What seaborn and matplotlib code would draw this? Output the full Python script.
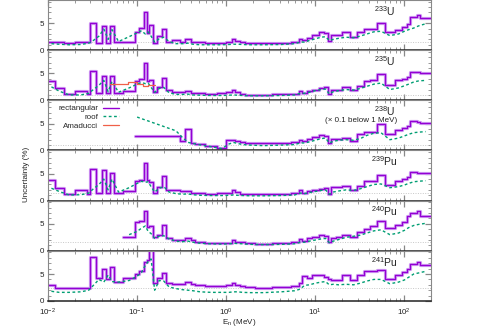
import numpy as np
import pandas as pd
import matplotlib
matplotlib.use("Agg")
import matplotlib.pyplot as plt
from matplotlib.lines import Line2D
from matplotlib.ticker import MultipleLocator, LogLocator, NullFormatter
import seaborn as sns

nan = np.nan

# common energy group boundaries (MeV)
edges = [0.01, 0.012, 0.015, 0.02, 0.0275, 0.03, 0.035, 0.04, 0.045, 0.05, 0.055,
         0.07, 0.095, 0.106, 0.119, 0.129, 0.138, 0.15, 0.166, 0.19, 0.21, 0.25,
         0.3, 0.35, 0.4, 0.45, 0.58, 0.8, 1.0, 1.16, 1.26, 1.44, 1.64, 2.12, 3.26,
         5.3, 6.5, 7.1, 8.1, 9.2, 10.9, 12.4, 13.8, 15.0, 17.0, 19.9, 24.7, 29.4,
         34.9, 41.5, 50, 60, 79, 94, 107, 117, 139, 151, 200]

# uncertainty (%) per group, rectangular and roof
rect_233u = [1.55, 1.55, 1.35, 1.5, 1.5, 5.05, 1.4, 4.45, 1.4, 4.5, 1.55,
             1.6, 3.3, 4.2, 7.0, 3.2, 4.7, 1.4, 2.6, 3.9,
             1.6, 1.9, 1.5, 2.0, 1.5, 1.45, 1.4, 1.35,
             1.6, 2.0, 1.7, 1.5, 1.4, 1.35, 1.4,
             1.5, 2.15, 1.8, 2.3, 2.8, 3.3, 3.1, 1.7, 2.8, 2.8,
             3.3, 2.5, 3.3, 3.9, 3.9, 5.1, 3.3, 3.7, 4.3, 4.8, 6.2, 6.5, 5.9]
roof_233u = [1.2, 1.1, 1.0, 1.05, 1.3, 1.8, 2.6, 3.9, 2.0, 3.8, 1.6,
             2.5, 3.2, 3.6, 3.0, 3.4, 2.6, 1.5, 2.1, 2.4,
             1.6, 1.2, 1.2, 1.3, 1.1, 1.0, 1.0, 1.0,
             1.05, 1.1, 1.1, 1.05, 1.0, 1.0, 1.05,
             1.2, 1.5, 1.5, 1.8, 2.1, 2.4, 2.5, 1.8, 2.0, 2.2,
             2.4, 2.3, 2.6, 3.0, 3.4, 3.5, 2.7, 3.0, 3.5, 3.8, 4.1, 4.5, 4.9]

rect_235u = [3.5, 2.3, 1.1, 1.7, 1.2, 5.5, 1.3, 4.6, 1.3, 4.6, 1.3,
             1.8, 3.5, 3.9, 7.0, 3.6, 3.8, 1.5, 2.5, 4.1,
             2.0, 1.6, 1.5, 1.8, 1.4, 1.3, 1.25, 1.3,
             1.5, 1.9, 1.5, 1.2, 1.05, 1.05, 1.1,
             1.25, 1.7, 1.4, 1.8, 2.0, 2.3, 2.4, 1.1, 2.0, 2.0,
             2.5, 1.85, 2.65, 3.5, 3.7, 4.8, 2.8, 3.7, 4.0, 4.4, 5.2, 5.3, 5.05]
roof_235u = [2.5, 1.7, 1.0, 1.0, 1.3, 2.0, 2.8, 3.7, 1.6, 3.5, 1.5,
             2.3, 3.0, 3.3, 3.1, 3.2, 2.4, 1.5, 2.2, 2.4,
             1.4, 1.1, 1.1, 1.15, 1.0, 0.95, 0.9, 0.9,
             0.95, 1.0, 0.95, 0.9, 0.85, 0.85, 0.9,
             1.0, 1.3, 1.3, 1.5, 1.8, 2.0, 2.1, 1.2, 1.6, 1.8,
             2.0, 1.9, 2.2, 2.6, 3.0, 3.2, 2.0, 2.3, 2.7, 3.0, 3.4, 3.6, 3.7]

amad_edges = [0.05, 0.08, 0.1, 0.118, 0.134, 0.16]
amad_235u = [2.95, 3.35, 3.1, 2.7, 2.9]

rect_238u = [nan] * 12 + [2.6, 2.6, 2.6, 2.6, 2.6, 2.6, 2.6, 2.6,
             2.7, 2.7, 1.85, 4.0, 1.4, 1.2, 0.85, 0.45,
             1.9, 2.0, 1.7, 1.6, 1.3, 1.3, 1.3,
             1.5, 2.0, 1.7, 2.1, 2.5, 2.8, 2.6, 1.35, 2.1, 2.1,
             2.4, 1.8, 3.0, 3.5, 3.5, 4.9, 3.0, 3.8, 4.1, 4.6, 5.4, 5.25, 5.1]
roof_238u = [nan] * 12 + [6.2, 5.9, 5.66, 5.48, 5.28, 5.05, 4.75, 4.45,
             4.1, 3.65, 2.4, 1.5, 1.3, 1.05, 0.7, 0.35,
             1.2, 1.5, 1.3, 1.1, 1.0, 0.9, 1.0,
             1.1, 1.4, 1.4, 1.6, 1.9, 2.2, 2.3, 1.4, 1.7, 1.9,
             2.0, 1.9, 2.2, 2.8, 3.2, 3.3, 2.0, 2.3, 2.7, 3.0, 3.3, 3.4, 3.5]

rect_239pu = [3.8, 2.3, 1.2, 2.0, 1.3, 5.8, 1.35, 5.7, 1.35, 5.2, 1.5,
              1.8, 3.6, 3.9, 7.0, 3.9, 3.4, 1.5, 2.6, 4.5,
              2.0, 1.9, 1.7, 1.8, 1.4, 1.4, 1.3, 1.35,
              1.5, 1.9, 1.6, 1.3, 1.2, 1.2, 1.25,
              1.35, 2.0, 1.35, 1.8, 2.0, 2.2, 2.4, 1.2, 2.5, 2.5,
              2.7, 2.0, 2.8, 3.7, 3.7, 4.75, 2.9, 3.7, 4.0, 4.4, 5.35, 5.2, 5.05]
roof_239pu = [2.3, 1.7, 1.05, 1.1, 1.4, 2.2, 3.0, 4.0, 2.0, 4.0, 1.6,
              2.4, 3.2, 3.6, 3.4, 3.5, 2.6, 1.6, 2.3, 2.6,
              1.6, 1.3, 1.2, 1.25, 1.1, 1.0, 0.95, 0.95,
              1.0, 1.05, 1.0, 0.95, 0.9, 0.9, 0.95,
              1.05, 1.4, 1.3, 1.5, 1.7, 1.9, 2.0, 1.2, 1.6, 1.8,
              2.0, 1.9, 2.2, 2.6, 3.0, 3.1, 2.4, 2.6, 2.9, 3.2, 3.5, 3.6, 3.7]

rect_240pu = [nan] * 11 + [2.55, 5.4, 5.6, 7.4, 4.5, 4.6, 2.6, 3.0, 4.8,
              2.4, 2.0, 2.0, 2.3, 2.0, 1.6, 1.45, 1.4,
              1.5, 2.0, 1.7, 1.55, 1.45, 1.35, 1.4,
              1.7, 2.2, 1.9, 2.3, 2.6, 3.0, 2.8, 1.55, 2.3, 2.6,
              3.0, 2.6, 3.4, 4.0, 4.6, 5.6, 4.2, 4.7, 5.3, 6.5, 7.0, 7.3, 6.5]
roof_240pu = [nan] * 11 + [3.0, 3.6, 4.2, 4.6, 3.6, 3.2, 2.3, 2.7, 2.8,
              2.2, 1.8, 1.7, 1.8, 1.6, 1.4, 1.3, 1.25,
              1.3, 1.4, 1.35, 1.3, 1.2, 1.15, 1.2,
              1.3, 1.6, 1.6, 1.8, 2.0, 2.2, 2.3, 1.5, 1.8, 2.1,
              2.5, 2.7, 2.9, 3.3, 3.7, 3.9, 3.0, 3.3, 3.8, 4.3, 4.7, 4.9, 5.1]

rect_241pu = [2.9, 2.5, 2.5, 2.5, 2.5, 8.2, 4.2, 5.9, 4.0, 6.3, 3.6,
              4.3, 5.0, 5.5, 7.3, 7.6, 9.9, 3.3, 4.2, 5.2,
              3.4, 3.2, 3.2, 3.5, 3.2, 2.9, 2.7, 2.7,
              2.9, 3.4, 3.0, 2.8, 2.6, 2.5, 2.6,
              2.8, 3.3, 4.6, 4.3, 4.75, 4.75, 4.5, 4.1, 3.95, 3.95,
              4.8, 3.8, 4.75, 5.5, 5.5, 5.8, 4.1, 4.8, 5.4, 6.0, 6.9, 7.2, 6.6]
roof_241pu = [1.8, 1.6, 1.6, 1.7, 2.0, 2.9, 4.0, 3.5, 4.8, 3.6, 3.5,
              3.8, 4.6, 5.3, 6.6, 7.3, 7.8, 2.0, 3.8, 3.7,
              2.6, 2.3, 2.1, 2.0, 1.9, 1.7, 1.6, 1.6,
              1.6, 1.7, 1.7, 1.6, 1.55, 1.55, 1.7,
              1.9, 2.2, 2.9, 3.0, 3.3, 3.5, 3.6, 3.0, 3.1, 3.0,
              3.1, 3.0, 3.3, 3.7, 4.0, 4.0, 3.2, 3.5, 3.9, 4.4, 5.0, 5.2, 5.5]

nuclides = [r"$^{233}$U", r"$^{235}$U", r"$^{238}$U", r"$^{239}$Pu", r"$^{240}$Pu", r"$^{241}$Pu"]
ref_levels = [1.5, 1.05, 1.05, 1.5, 1.6, 2.5]
rect_all = [rect_233u, rect_235u, rect_238u, rect_239pu, rect_240pu, rect_241pu]
roof_all = [roof_233u, roof_235u, roof_238u, roof_239pu, roof_240pu, roof_241pu]

PURPLE = "#9400d3"
PURPLE_LIGHT = "#cf9cf2"
GREEN = "#009e73"
RED = "#f06048"

sns.set_theme(style="ticks")
plt.rcParams["font.family"] = ["Liberation Sans", "DejaVu Sans"]
plt.rcParams["mathtext.default"] = "regular"


def step_frame(x_edges, vals):
    return pd.DataFrame({"E": x_edges, "unc": list(vals) + [vals[-1]]}).dropna()


def draw_panel(ax, rect, roof, ref_level, label):
    ax.axhline(ref_level, color="#c8c8c8", lw=0.7, ls=(0, (1, 1.5)), zorder=1)
    df = step_frame(edges, rect)
    sns.lineplot(data=df, x="E", y="unc", ax=ax, drawstyle="steps-post",
                 color=PURPLE_LIGHT, lw=2.3, estimator=None, sort=False)
    sns.lineplot(data=df, x="E", y="unc", ax=ax, drawstyle="steps-post",
                 color=PURPLE, lw=0.9, estimator=None, sort=False)
    centers = np.sqrt(np.array(edges[:-1]) * np.array(edges[1:]))
    rf = pd.DataFrame({"E": centers, "unc": roof}).dropna()
    sns.lineplot(data=rf, x="E", y="unc", ax=ax, color=GREEN, lw=1.0,
                 linestyle=(0, (2.0, 1.8)), estimator=None, sort=False)
    ax.text(60, 7.3, label, ha="center", va="center", fontsize=7.5, color="#222222")


fig = plt.figure(figsize=(4.79, 3.35), dpi=100)
axes = fig.subplots(6, 1, sharex=True, gridspec_kw=dict(hspace=0))
fig.subplots_adjust(left=0.100, right=0.900, bottom=0.1015, top=1.0)

for i, ax in enumerate(axes):
    draw_panel(ax, rect_all[i], roof_all[i], ref_levels[i], nuclides[i])

# Amaducci evaluation shown for 235U only
am = step_frame(amad_edges, amad_235u)
sns.lineplot(data=am, x="E", y="unc", ax=axes[1], drawstyle="steps-post",
             color=RED, lw=0.9, estimator=None, sort=False)

for ax in axes:
    ax.set_xscale("log")
    ax.set_xlim(0.01, 200)
    ax.set_ylim(0, 9.3)
    ax.set_yticks([0, 5])
    ax.yaxis.set_minor_locator(MultipleLocator(1))
    ax.xaxis.set_major_locator(LogLocator(base=10, numticks=10))
    ax.xaxis.set_minor_locator(LogLocator(base=10, subs=np.arange(2, 10), numticks=20))
    ax.xaxis.set_minor_formatter(NullFormatter())
    ax.set_xlabel("")
    ax.set_ylabel("")
    ax.tick_params(which="both", direction="in", top=True, right=True,
                   labelsize=5.8, colors="#222222")
    ax.tick_params(axis="y", pad=3)
    ax.tick_params(axis="x", pad=4)
    ax.tick_params(which="major", length=4, width=0.9, color="#888888")
    ax.tick_params(which="minor", length=2, width=0.6, color="#888888")
    for side in ["left", "right", "top"]:
        ax.spines[side].set_color("#888888")
        ax.spines[side].set_linewidth(0.8)
    ax.spines["bottom"].set_color("#222222")
    ax.spines["bottom"].set_linewidth(1.1)
    ax.set_facecolor("white")

axes[2].text(33, 5.55, "(\u00d7 0.1 below 1 MeV)", ha="center", va="center",
             fontsize=5.8, color="#222222")

handles = [Line2D([], [], color=PURPLE, lw=1.0),
           Line2D([], [], color=GREEN, lw=1.0, ls=(0, (2.0, 1.8))),
           Line2D([], [], color=RED, lw=0.9)]
axes[2].legend(handles, ["rectangular", "roof", "Amaducci"], loc="upper left",
               bbox_to_anchor=(0.01, 1.04), frameon=False, markerfirst=False,
               alignment="right", fontsize=5.8, handlelength=2.0,
               handletextpad=0.6, labelspacing=0.15, borderpad=0.3)

fig.text(27 / 479, 1 - 174 / 335, "Uncertainty (%)", rotation=90,
         ha="center", va="center", fontsize=5.8, color="#222222")
fig.text(239 / 479, 1 - 322 / 335, "E$_n$ (MeV)", ha="center", va="center",
         fontsize=5.8, color="#222222")

fig.savefig("out.png", dpi=100, facecolor="white")
